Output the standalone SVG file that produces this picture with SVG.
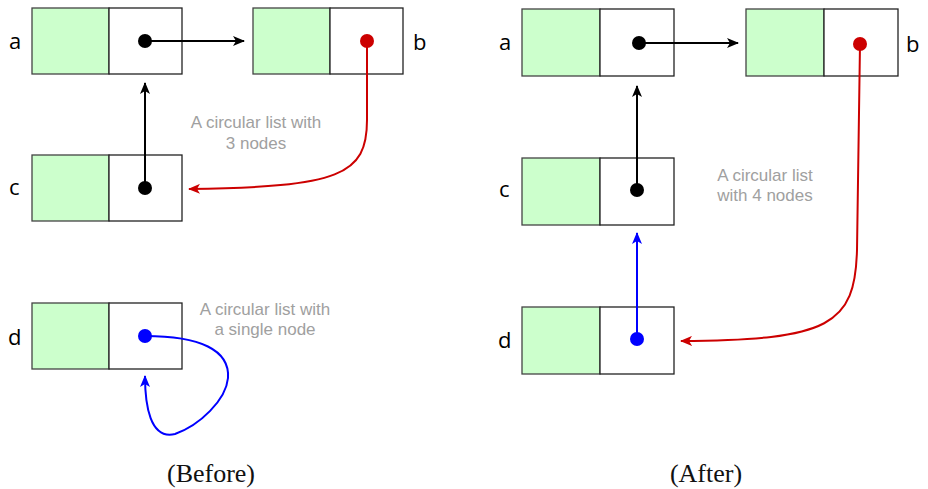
<svg xmlns="http://www.w3.org/2000/svg" width="928" height="489" viewBox="0 0 928 489">
<style>
.g{fill:#ccffcc;stroke:#444;stroke-width:1.3}
.w{fill:#fff;stroke:#222;stroke-width:1.3}
.lbl{font-family:"Open Sans","Noto Sans",sans-serif;font-size:22px;fill:#000}
.note{font-family:"Liberation Sans",Arial,sans-serif;font-size:17px;fill:#a0a0a0;text-anchor:middle}
.cap{font-family:"Liberation Serif","Times New Roman",serif;font-size:26px;fill:#111;text-anchor:middle}
.k{stroke:#000;stroke-width:2;fill:none}
.r{stroke:#cc0000;stroke-width:2;fill:none}
.bl{stroke:#0000ff;stroke-width:2;fill:none}
</style>
<defs>
<marker id="ak" markerWidth="12" markerHeight="10" refX="11" refY="5" orient="auto" markerUnits="userSpaceOnUse"><path d="M0,0 L12,5 L0,10 L3,5 Z" fill="#000"/></marker>
<marker id="ar" markerWidth="12" markerHeight="10" refX="11" refY="5" orient="auto" markerUnits="userSpaceOnUse"><path d="M0,0 L12,5 L0,10 L3,5 Z" fill="#cc0000"/></marker>
<marker id="ab" markerWidth="12" markerHeight="10" refX="11" refY="5" orient="auto" markerUnits="userSpaceOnUse"><path d="M0,0 L12,5 L0,10 L3,5 Z" fill="#0000ff"/></marker>
</defs>
<rect width="928" height="489" fill="#fff"/>

<g id="before-a"><rect class="g" x="32" y="8" width="77" height="66"/><rect class="w" x="109" y="8" width="73" height="66"/><text class="lbl" x="9" y="49">a</text></g>
<g id="before-b"><rect class="g" x="253" y="8" width="77" height="66"/><rect class="w" x="330" y="8" width="73" height="66"/><text class="lbl" x="413" y="50">b</text></g>
<g id="before-c"><rect class="g" x="32" y="155" width="77" height="66"/><rect class="w" x="109" y="155" width="73" height="66"/><text class="lbl" x="9" y="195">c</text></g>
<g id="before-d"><rect class="g" x="32" y="303" width="77" height="66"/><rect class="w" x="109" y="303" width="73" height="66"/><text class="lbl" x="8" y="345">d</text></g>

<g id="after-a"><rect class="g" x="522" y="9" width="78" height="67"/><rect class="w" x="600" y="9" width="74" height="67"/><text class="lbl" x="499" y="50">a</text></g>
<g id="after-b"><rect class="g" x="746" y="9" width="78" height="67"/><rect class="w" x="824" y="9" width="74" height="67"/><text class="lbl" x="906" y="52">b</text></g>
<g id="after-c"><rect class="g" x="522" y="158" width="78" height="67"/><rect class="w" x="600" y="158" width="74" height="67"/><text class="lbl" x="499" y="197">c</text></g>
<g id="after-d"><rect class="g" x="522" y="307" width="78" height="67"/><rect class="w" x="600" y="307" width="74" height="67"/><text class="lbl" x="498" y="348">d</text></g>

<g id="connectors">
<path class="k" d="M145,41 H244" marker-end="url(#ak)"/>
<path class="k" d="M145,188 V83" marker-end="url(#ak)"/>
<path class="r" d="M367,41 V120 C367,175 340,187 189,189" marker-end="url(#ar)"/>
<path class="bl" d="M145,336 C200,336 230,350 228,378 C226,400 200,425 175,434 C150,440 145,405 145,376" marker-end="url(#ab)"/>
<circle cx="145" cy="41" r="7" fill="#000"/>
<circle cx="367" cy="41" r="7" fill="#cc0000"/>
<circle cx="145" cy="188" r="7" fill="#000"/>
<circle cx="145" cy="336" r="7" fill="#0000ff"/>

<path class="k" d="M639,43 H738" marker-end="url(#ak)"/>
<path class="k" d="M637,190 V86" marker-end="url(#ak)"/>
<path class="bl" d="M637,339 V233" marker-end="url(#ab)"/>
<path class="r" d="M860,44 L857,250 C855,325 830,340 681,341" marker-end="url(#ar)"/>
<circle cx="639" cy="43" r="7" fill="#000"/>
<circle cx="860" cy="44" r="7" fill="#cc0000"/>
<circle cx="637" cy="190" r="7" fill="#000"/>
<circle cx="637" cy="339" r="7" fill="#0000ff"/>
</g>

<text class="note" x="256" y="128">A circular list with</text>
<text class="note" x="256" y="149">3 nodes</text>
<text class="note" x="265" y="315">A circular list with</text>
<text class="note" x="265" y="335">a single node</text>
<text class="note" x="765" y="181">A circular list</text>
<text class="note" x="765" y="201">with 4 nodes</text>
<text class="cap" x="211" y="482">(Before)</text>
<text class="cap" x="706" y="482">(After)</text>
</svg>
